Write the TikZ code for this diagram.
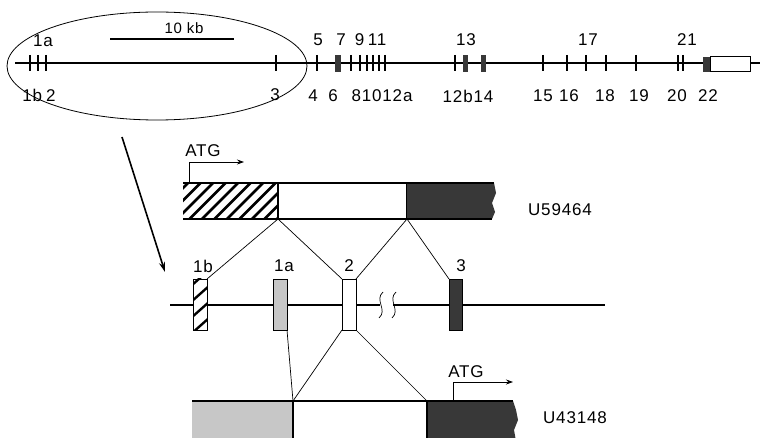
\documentclass[tikz,border=0pt]{standalone}
\usepackage{fontspec}
\setmainfont{Liberation Sans}[LetterSpace=5]
\usetikzlibrary{arrows.meta,shapes.geometric}
\definecolor{darkfill}{gray}{0.22}
\definecolor{lightfill}{gray}{0.78}
\begin{document}
\begin{tikzpicture}[x=1pt,y=-1pt,
  lbl/.style={inner sep=0pt, font=\fontsize{17}{17}\selectfont},
  smalllbl/.style={inner sep=0pt, font=\fontsize{15}{15}\selectfont},
  tickline/.style={line width=2.8pt},
  thinline/.style={line width=0.7pt},
  geneline/.style={line width=1.2pt},
  exonbox/.style={draw, line width=0.9pt, minimum width=14pt, minimum height=51pt, inner sep=0pt, outer sep=0pt, anchor=north west},
  seg/.style={line width=1.2pt, inner sep=0pt, outer sep=0pt, anchor=north west},
  atgarrow/.style={line width=0.8pt, -{Stealth[length=7pt,width=5pt]}},
  bigarrow/.style={line width=1.6pt, -{Stealth[length=10pt,width=6pt]}}
]
\useasboundingbox (0,0) rectangle (760,438);
\fill[white] (0,0) rectangle (760,438);

% ---------------- top gene map ----------------
\draw[geneline] (15,63) -- (760,63);
\foreach \xx in {30,38,46,276,317,351,360,367,373,379,385,455,543,567,586,606,636,678,683}
  \draw[tickline] (\xx,55) -- (\xx,71);
\fill[darkfill] (335,55) rectangle (341,72);
\fill[darkfill] (463,55) rectangle (468,72);
\fill[darkfill] (481,55) rectangle (486,72);
\fill[darkfill] (703,57) rectangle (710,72);
\draw[line width=1pt, fill=white] (710,57) rectangle (750,72);

% ellipse
\node[draw, ellipse, line width=0.8pt, minimum width=300pt, minimum height=108pt, inner sep=0pt] (ell) at (157,66) {};

% scale bar
\coordinate (sbl) at (110,39);
\coordinate (sbr) at (234,39);
\draw[line width=1.1pt] (sbl) -- (sbr);
\node[smalllbl] (t10kb) at (184,28) {10 kb};

% top labels
\node[lbl] (t1a) at (43,41) {1a};
\node[lbl] (t5) at (318,40) {5};
\node[lbl] (t7) at (341,40) {7};
\node[lbl] (t9) at (359.5,40) {9};
\node[lbl] (t11) at (377,40) {11};
\node[lbl] (t13) at (466,40) {13};
\node[lbl] (t17) at (588,40) {17};
\node[lbl] (t21) at (687,40) {21};

% bottom labels
\node[lbl] (b1b2) at (39,95) {1b\kern4pt2};
\node[lbl] (b3) at (275,95) {3};
\node[lbl] (b4) at (313,96) {4};
\node[lbl] (b6) at (333,96) {6};
\node[lbl] (b81012a) at (382,96) {81012a};
\node[lbl] (b12b14) at (468,96) {12b14};
\node[lbl] (b15) at (543,96) {15};
\node[lbl] (b16) at (569,96) {16};
\node[lbl] (b18) at (605,96) {18};
\node[lbl] (b19) at (639,96) {19};
\node[lbl] (b20) at (677,96) {20};
\node[lbl] (b22) at (708,96) {22};

% big arrow
\coordinate (arrs) at (122,137);
\coordinate (arre) at (165,272);
\draw[bigarrow] (arrs) -- (arre);

% ---------------- upper mRNA (U59464) ----------------
\node[seg, minimum width=95pt, minimum height=36pt] (h1) at (183,183) {};
\node[seg, minimum width=129pt, minimum height=36pt, draw, fill=white] (w1) at (278,183) {};
\node[seg, minimum width=86pt, minimum height=36pt] (d1) at (407,183) {};
\begin{scope}
  \clip (h1.north west) rectangle (h1.south east);
  \foreach \xx in {150,162.5,...,290}
    \draw[line width=2.6pt] (\xx,221) -- (\xx+40,181);
\end{scope}
\draw[line width=1.2pt] (h1.north west) -- (h1.north east) (h1.south west) -- (h1.south east) -- (h1.north east);
\fill[darkfill] (d1.north west) -- (494,183) -- (496,193) -- (492,203) -- (495,212) -- (492,219) -- (d1.south west) -- cycle;
\draw[line width=1.2pt] (d1.north west) -- (494,183) (d1.south west) -- (492,219);
\node[lbl] (u1) at (560,210) {U59464};

\coordinate (a1s) at (189,183);
\coordinate (a1e) at (244,162);
\draw[atgarrow] (a1s) |- (a1e);
\node[lbl] (atg1) at (203,151) {ATG};

% ---------------- middle genomic region ----------------
\draw[geneline] (170,305) -- (380,305);
\draw[geneline] (393,305) -- (605,305);
\draw[thinline] (383,292) .. controls (374,300) and (388,310) .. (379,318);
\draw[thinline] (396,292) .. controls (387,300) and (401,310) .. (392,318);

\node[exonbox, fill=white] (e1b) at (193,279) {};
\begin{scope}
  \clip (e1b.north west) rectangle (e1b.south east);
  \foreach \cc in {286,302,318,334}
    \draw[line width=2.4pt] (191,\cc) -- (209,\cc-16);
\end{scope}
\node[exonbox] (e1bb) at (193,279) {};
\node[exonbox, fill=lightfill] (e1a) at (273,279) {};
\node[exonbox, fill=white] (e2) at (342,279) {};
\node[exonbox, fill=darkfill, minimum width=13pt] (e3) at (449,279) {};

\node[lbl] (l1b) at (203,266) {1b};
\node[lbl] (l1a) at (284,266) {1a};
\node[lbl] (l2) at (349,266) {2};
\node[lbl] (l3) at (461,266) {3};

% connectors upper
\draw[thinline] (h1.south east) -- (e1b.north east);
\draw[thinline] (h1.south east) -- (e2.north west);
\draw[thinline] (d1.south west) -- (e2.north east);
\draw[thinline] (d1.south west) -- (e3.north west);

% ---------------- lower mRNA (U43148) ----------------
\begin{scope}
  \clip (0,0) rectangle (760,438);
  \node[seg, minimum width=101pt, minimum height=40pt, fill=lightfill] (g2) at (192,401) {};
  \node[seg, minimum width=134pt, minimum height=40pt] (w2) at (293,401) {};
  \node[seg, minimum width=86pt, minimum height=40pt] (d2) at (427,401) {};
  \fill[darkfill] (d2.north west) -- (513,401) -- (516,410) -- (518,420) -- (514,430) -- (516,441) -- (d2.south west) -- cycle;
  \draw[line width=1.2pt] (g2.north west) -- (513,401);
  \draw[line width=1.2pt] (g2.north east) -- (g2.south east);
  \draw[line width=1.2pt] (d2.north west) -- (d2.south west);
\end{scope}
\node[lbl] (u2) at (575,418) {U43148};

\coordinate (a2s) at (453,401);
\coordinate (a2e) at (513,382);
\draw[atgarrow] (a2s) |- (a2e);
\node[lbl] (atg2) at (466,372) {ATG};

% connectors lower
\draw[thinline] (e1a.south east) -- (g2.north east);
\draw[thinline] (e2.south west) -- (g2.north east);
\draw[thinline] (e2.south east) -- (d2.north west);
\end{tikzpicture}
\end{document}
